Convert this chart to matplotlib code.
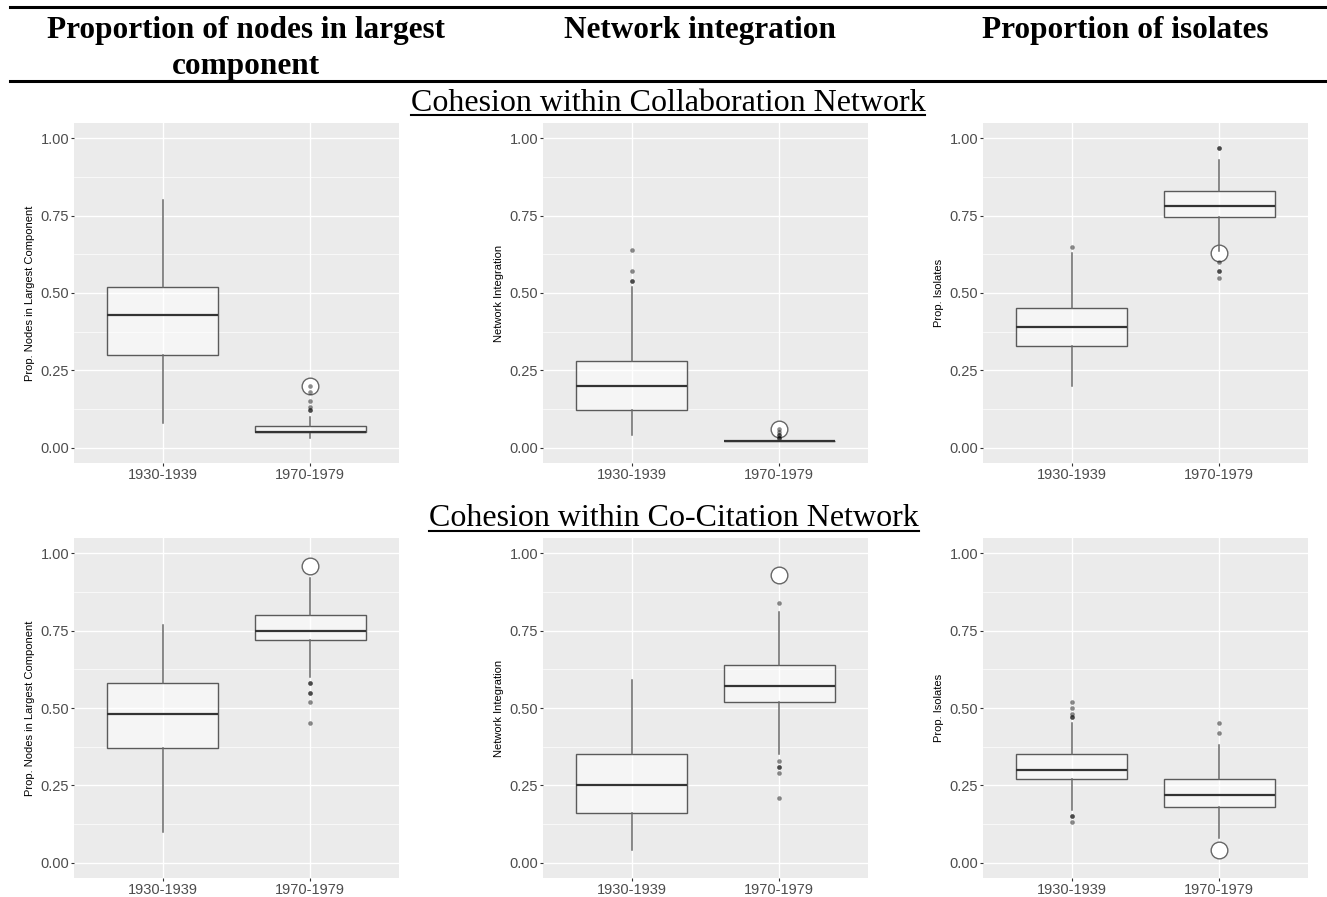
import matplotlib.pyplot as plt
from matplotlib.lines import Line2D

plt.rcParams['font.family'] = ['Liberation Sans', 'DejaVu Sans']

W, H = 1327, 897

periods = ["1930-1939", "1970-1979"]
yticks = [0.0, 0.25, 0.5, 0.75, 1.0]

# box summaries per period: lower whisker, Q1, median, Q3, upper whisker
collab_lcc_box = [[0.08, 0.30, 0.43, 0.52, 0.80], [0.03, 0.05, 0.05, 0.07, 0.10]]
collab_lcc_out = [[], [0.12, 0.12, 0.13, 0.15, 0.18, 0.20]]
collab_lcc_obs = 0.20

collab_int_box = [[0.04, 0.12, 0.20, 0.28, 0.52], [0.02, 0.02, 0.02, 0.02, 0.02]]
collab_int_out = [[0.54, 0.54, 0.57, 0.64], [0.03, 0.03, 0.04, 0.04, 0.05, 0.06]]
collab_int_obs = 0.06

collab_iso_box = [[0.20, 0.33, 0.39, 0.45, 0.63], [0.635, 0.745, 0.78, 0.83, 0.93]]
collab_iso_out = [[0.65], [0.55, 0.57, 0.57, 0.60, 0.97, 0.97]]
collab_iso_obs = 0.63

cocit_lcc_box = [[0.10, 0.37, 0.48, 0.58, 0.77], [0.60, 0.72, 0.75, 0.80, 0.92]]
cocit_lcc_out = [[], [0.45, 0.52, 0.55, 0.55, 0.58, 0.58]]
cocit_lcc_obs = 0.96

cocit_int_box = [[0.04, 0.16, 0.25, 0.35, 0.59], [0.35, 0.52, 0.57, 0.64, 0.81]]
cocit_int_out = [[], [0.21, 0.29, 0.31, 0.31, 0.33, 0.84]]
cocit_int_obs = 0.93

cocit_iso_box = [[0.17, 0.27, 0.30, 0.35, 0.45], [0.08, 0.18, 0.22, 0.27, 0.38]]
cocit_iso_out = [[0.13, 0.15, 0.15, 0.47, 0.47, 0.48, 0.50, 0.52], [0.42, 0.45]]
cocit_iso_obs = 0.04

column_titles = ["Proportion of nodes in largest", "Network integration", "Proportion of isolates"]
row_titles = ["Cohesion within Collaboration Network", "Cohesion within Co-Citation Network"]
ylabels = ["Prop. Nodes in Largest Component", "Network Integration", "Prop. Isolates"]


def fx(px):
    return px / W


def fy(py):
    return 1 - py / H


def draw_panel(ax, box, out, obs, ylabel):
    ax.set_facecolor('#EBEBEB')
    for s in ax.spines.values():
        s.set_visible(False)
    ax.set_axisbelow(True)

    # observed value drawn under the box plot
    ax.plot(2, obs, marker='o', markersize=12, markerfacecolor='white',
            markeredgecolor='#666666', markeredgewidth=1.0, zorder=2.5)

    stats = [dict(whislo=b[0], q1=b[1], med=b[2], q3=b[3], whishi=b[4], fliers=o)
             for b, o in zip(box, out)]
    ax.bxp(stats, positions=[1, 2], widths=0.75, patch_artist=True, showcaps=False,
           boxprops=dict(facecolor=(1, 1, 1, 0.55), edgecolor='#5a5a5a', linewidth=1.0),
           whiskerprops=dict(color='#6a6a6a', linewidth=1.1),
           medianprops=dict(color='#333333', linewidth=1.6),
           flierprops=dict(marker='o', markerfacecolor='black', markeredgecolor='none',
                           markersize=3.3, alpha=0.45),
           zorder=3)

    ax.set_xlim(0.4, 2.6)
    ax.set_ylim(-0.05, 1.05)
    ax.set_yticks(yticks)
    ax.set_yticklabels([f"{v:.2f}" for v in yticks])
    ax.set_yticks([0.125, 0.375, 0.625, 0.875], minor=True)
    ax.set_xticks([1, 2])
    ax.set_xticklabels(periods)
    ax.grid(True, which='major', color='white', linewidth=1.0)
    ax.grid(True, which='minor', axis='y', color='white', linewidth=0.5)
    ax.tick_params(which='major', length=2.5, width=0.8, color='#333333',
                   labelcolor='#4D4D4D', labelsize=10.5, pad=1)
    ax.tick_params(which='minor', length=0)
    ax.set_ylabel(ylabel, fontsize=8, labelpad=4)


fig = plt.figure(figsize=(W / 100, H / 100), dpi=100)

panels = [
    [(collab_lcc_box, collab_lcc_out, collab_lcc_obs),
     (collab_int_box, collab_int_out, collab_int_obs),
     (collab_iso_box, collab_iso_out, collab_iso_obs)],
    [(cocit_lcc_box, cocit_lcc_out, cocit_lcc_obs),
     (cocit_int_box, cocit_int_out, cocit_int_obs),
     (cocit_iso_box, cocit_iso_out, cocit_iso_obs)],
]
col_left = [74, 543, 983]
row_top = [123, 538]
pw, ph = 325, 340

for r in range(2):
    for c in range(3):
        ax = fig.add_axes([fx(col_left[c]), fy(row_top[r] + ph), pw / W, ph / H])
        box, out, obs = panels[r][c]
        draw_panel(ax, box, out, obs, ylabels[c])

# table-style header
for y in [7, 81]:
    fig.add_artist(Line2D([fx(10), 1], [fy(y), fy(y)], color='black', linewidth=2.2))

hdr = dict(family=['Liberation Serif', 'DejaVu Serif'], weight='bold', fontsize=22.5,
           ha='center', va='baseline')
fig.text(fx(246), fy(38), column_titles[0], **hdr)
fig.text(fx(246), fy(74), "component", **hdr)
fig.text(fx(700), fy(38), column_titles[1], **hdr)
fig.text(fx(1125), fy(38), column_titles[2], **hdr)

# underlined section titles
renderer = fig.canvas.get_renderer()
for title, cx, base, ul in [(row_titles[0], 668, 111, 115.5), (row_titles[1], 674, 526, 530.5)]:
    t = fig.text(fx(cx), fy(base), title, family=['Liberation Serif', 'DejaVu Serif'],
                 fontsize=23, ha='center', va='baseline')
    bb = t.get_window_extent(renderer)
    fig.add_artist(Line2D([bb.x0 / W, bb.x1 / W], [fy(ul), fy(ul)], color='black', linewidth=1.5))

fig.savefig('out.png', dpi=100)
